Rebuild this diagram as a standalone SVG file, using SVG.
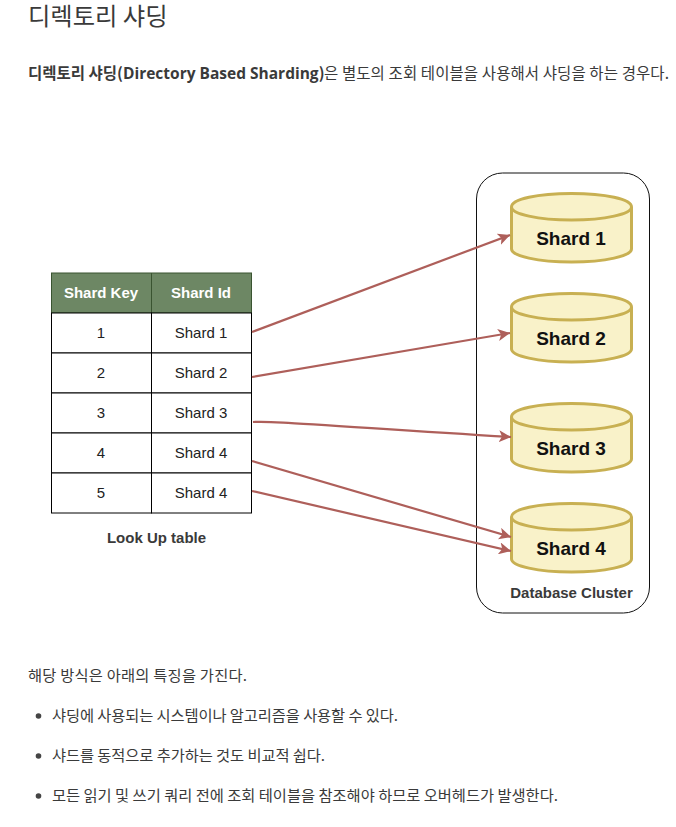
<svg xmlns="http://www.w3.org/2000/svg" width="676" height="827" viewBox="0 0 676 827">
<style>
.k{font-family:"Noto Sans CJK KR","Noto Sans",sans-serif;fill:#3a3a3a}
.l{font-family:"Open Sans","Noto Sans CJK KR",sans-serif}
.d{font-family:"Liberation Sans",Arial,sans-serif;text-anchor:middle}
.c{font-size:15px;fill:#222}
.h{font-size:15px;font-weight:700;fill:#fff}
.s{font-size:19px;font-weight:700;fill:#111}
.g{font-size:15px;font-weight:700;fill:#3a3a3a}
.cell{fill:#fff;stroke:#000;stroke-width:1}
.cyl{fill:#f9f2c9;stroke:#c8b052;stroke-width:3}
.con{fill:none;stroke:#ae5f5a;stroke-width:2.2;marker-end:url(#a)}
</style>
<defs>
<marker id="a" markerUnits="userSpaceOnUse" markerWidth="14" markerHeight="12" refX="12" refY="6" orient="auto"><path d="M0 0L12 6L0 12L3 6Z" fill="#ae5f5a"/></marker>
<path id="cy" d="M511.500 207V249C511.500 256 538 262 571.500 262C605 262 631.500 256 631.500 249V207C631.500 199 605 193.500 571.500 193.500C538 193.500 511.500 199 511.500 207C511.500 214 538 220 571.500 220C605 220 631.500 214 631.500 207"/>
</defs>
<text class="k" x="28" y="25" font-size="24.300">디렉토리 샤딩</text>
<text class="k" x="28" y="79" font-size="15.500" font-weight="700">디렉토리 샤딩(<tspan class="l">Directory Based Sharding</tspan>)</text>
<text class="k" x="324" y="79" font-size="15.500" textLength="345" lengthAdjust="spacing">은 별도의 조회 테이블을 사용해서 샤딩을 하는 경우다.</text>

<g id="container"><rect x="476.500" y="173" width="173" height="440" rx="26" fill="#fff" stroke="#111" stroke-width="1"/><text class="d g" x="571.500" y="598">Database Cluster</text></g>

<g id="table">
<rect x="51.500" y="273" width="200" height="40" fill="#6d8764" stroke="#3a5431"/>
<line x1="151.500" y1="273" x2="151.500" y2="313" stroke="#3a5431"/>
<text class="d h" x="101" y="298">Shard Key</text><text class="d h" x="201" y="298">Shard Id</text>
<rect class="cell" x="51.500" y="313" width="100" height="40"/><rect class="cell" x="151.500" y="313" width="100" height="40"/>
<rect class="cell" x="51.500" y="353" width="100" height="40"/><rect class="cell" x="151.500" y="353" width="100" height="40"/>
<rect class="cell" x="51.500" y="393" width="100" height="40"/><rect class="cell" x="151.500" y="393" width="100" height="40"/>
<rect class="cell" x="51.500" y="433" width="100" height="40"/><rect class="cell" x="151.500" y="433" width="100" height="40"/>
<rect class="cell" x="51.500" y="473" width="100" height="40"/><rect class="cell" x="151.500" y="473" width="100" height="40"/>
<text class="d c" x="101" y="338">1</text><text class="d c" x="201" y="338">Shard 1</text>
<text class="d c" x="101" y="378">2</text><text class="d c" x="201" y="378">Shard 2</text>
<text class="d c" x="101" y="418">3</text><text class="d c" x="201" y="418">Shard 3</text>
<text class="d c" x="101" y="458">4</text><text class="d c" x="201" y="458">Shard 4</text>
<text class="d c" x="101" y="498">5</text><text class="d c" x="201" y="498">Shard 4</text>
<text class="d g" x="156.500" y="543">Look Up table</text>
</g>

<g id="shard1"><use href="#cy" class="cyl"/><text class="d s" x="571" y="245">Shard 1</text></g>
<g id="shard2"><use href="#cy" class="cyl" y="100"/><text class="d s" x="571" y="345">Shard 2</text></g>
<g id="shard3"><use href="#cy" class="cyl" y="210"/><text class="d s" x="571" y="455">Shard 3</text></g>
<g id="shard4"><use href="#cy" class="cyl" y="310"/><text class="d s" x="571" y="555">Shard 4</text></g>

<g id="connectors">
<path class="con" d="M252 332L510 235"/>
<path class="con" d="M252 377L510 333"/>
<path class="con" d="M253 422C272 421 290 423 511 437"/>
<path class="con" d="M252 461L511 537"/>
<path class="con" d="M252 491L511 551"/>
</g>

<text class="k" x="28" y="681" font-size="15.300" textLength="219" lengthAdjust="spacing">해당 방식은 아래의 특징을 가진다.</text>
<circle cx="38.500" cy="716" r="2.800" fill="#444"/>
<text class="k" x="52" y="721" font-size="15.300" textLength="346" lengthAdjust="spacing">샤딩에 사용되는 시스템이나 알고리즘을 사용할 수 있다.</text>
<circle cx="38.500" cy="756" r="2.800" fill="#444"/>
<text class="k" x="52" y="761" font-size="15.300" textLength="273" lengthAdjust="spacing">샤드를 동적으로 추가하는 것도 비교적 쉽다.</text>
<circle cx="38.500" cy="796" r="2.800" fill="#444"/>
<text class="k" x="52" y="801" font-size="15.300" textLength="506" lengthAdjust="spacing">모든 읽기 및 쓰기 쿼리 전에 조회 테이블을 참조해야 하므로 오버헤드가 발생한다.</text>
</svg>
